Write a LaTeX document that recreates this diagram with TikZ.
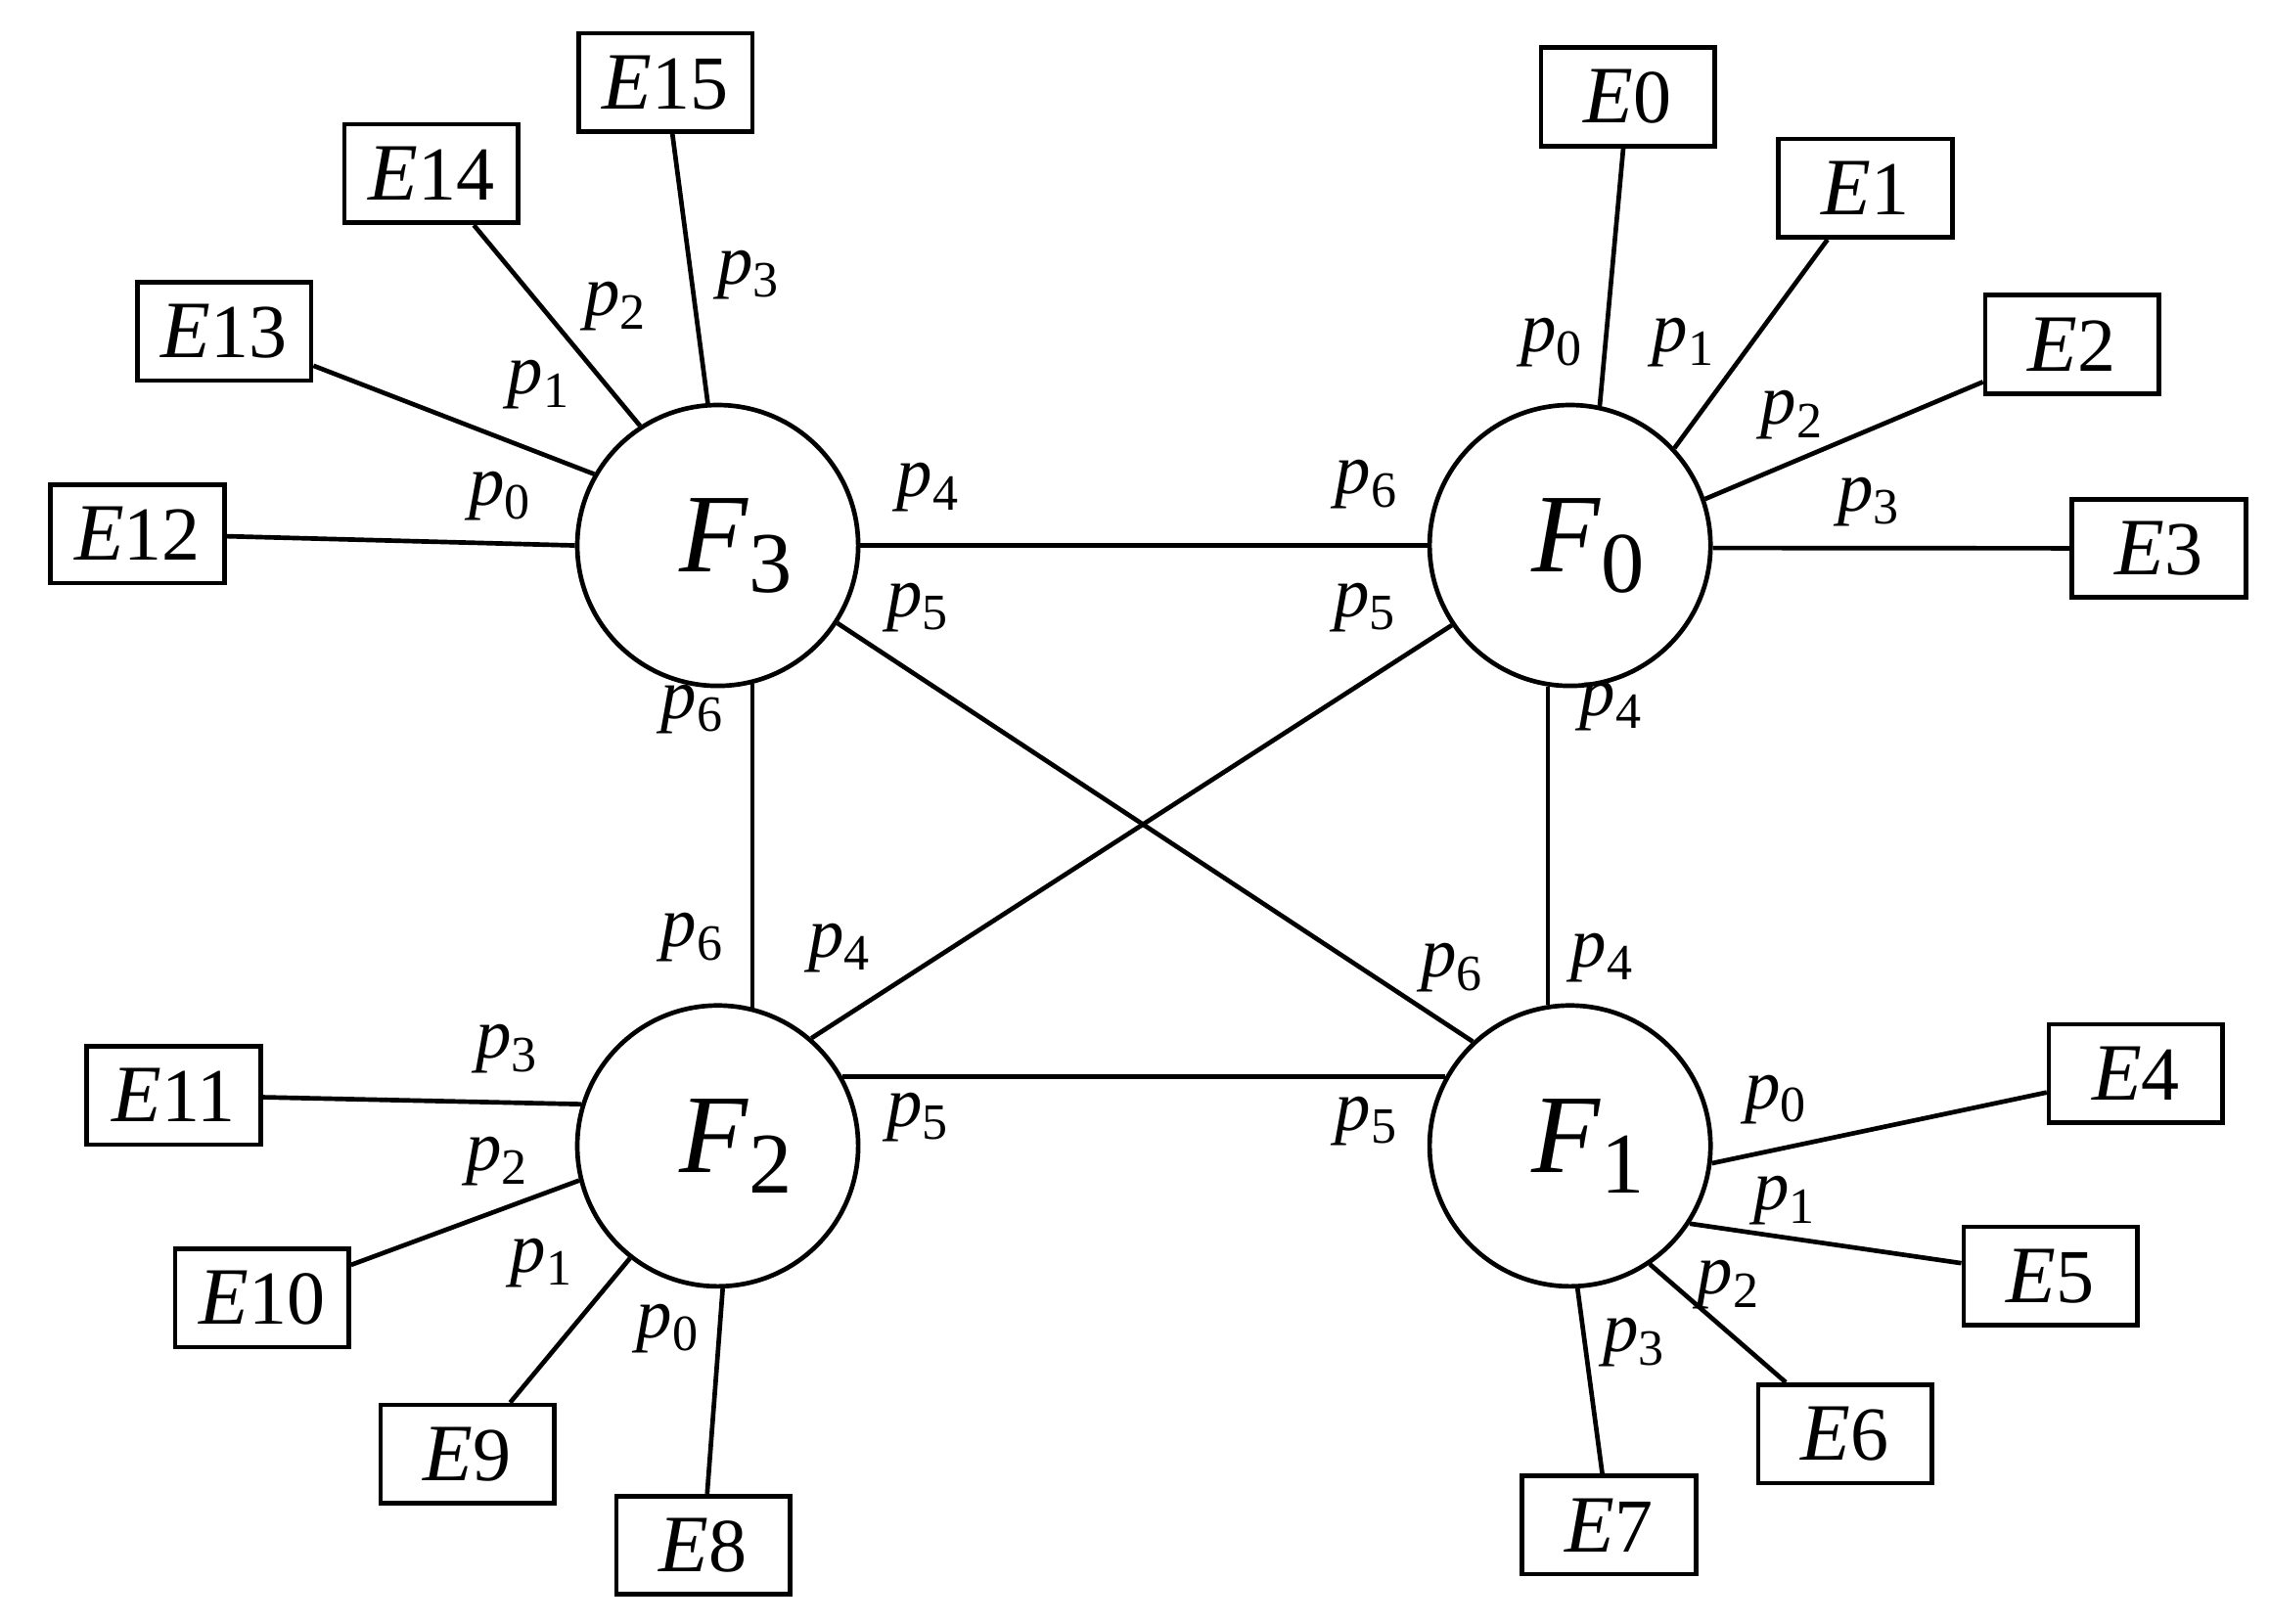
\documentclass[tikz,border=0pt]{standalone}
\usepackage{fontspec}
\setmainfont{Liberation Serif}
\begin{document}
\begin{tikzpicture}[x=0.01cm,y=-0.01cm,line width=0.9pt,
 hub/.style={circle,draw,minimum size=1.94cm,inner sep=0pt,font=\fontsize{22}{24}\selectfont},
 box/.style={draw,minimum width=1.2cm,minimum height=0.68cm,inner sep=0pt,font=\fontsize{16}{17}\selectfont},
 lab/.style={font=\fontsize{14}{15}\selectfont,inner sep=0pt}]
\useasboundingbox (0,0) rectangle (1568,1122);
\newcommand{\EE}[1]{\textit{E}{\fontsize{15}{16}\selectfont #1}}
\newcommand{\pp}[1]{\textit{p}\raisebox{-0.4ex}{\fontsize{10}{10}\selectfont #1}}
\newcommand{\FF}[1]{\hspace{0.25cm}\textit{F}\raisebox{-0.4ex}{\fontsize{17}{17}\selectfont #1}}
\node[hub] (F3) at (496,377) {\FF{3}};
\node[hub] (F0) at (1085,377) {\FF{0}};
\node[hub] (F2) at (496,792) {\FF{2}};
\node[hub] (F1) at (1085,792) {\FF{1}};
\foreach \n/\x/\y/\f/\a in {0/1125/67/F0/78.6,1/1289/130/F0/43.9,2/1432/238/F0/19.4,3/1492/379/F0/-1.8,
 4/1476/742/F1/-7.6,5/1417/882/F1/-33.4,6/1275/991/F1/-56.1,7/1112/1054/F1/-87.6,
 8/486/1068/F2/-88.2,9/323/1005/F2/-128.5,10/181/897/F2/-166.8,11/120/757/F2/163.4,
 12/95/369/F3/180,13/155/229/F3/150.3,14/298/120/F3/123.4,15/460/57/F3/94.7}{
 \node[box] (E\n) at (\x,\y) {\EE{\n}};
 \draw (\f.\a) -- (E\n);
}
\draw (F3.0) -- (F0.180);
\draw (F3.-76) -- (F2.76);
\draw (F0.-99) -- (F1.99);
\draw (F2.29) -- (F1.151);
\draw (F3.-33) -- (F1.133);
\draw (F0.214) -- (F2.49);
\foreach \t/\x/\y in {4/641/337,5/634/420,6/478/490,0/345/343,1/372/266,2/425/212,3/517/190,
 6/944/335,5/943/420,4/1113/488,0/1072/237,1/1163/237,2/1238/287,3/1291/347,
 6/478/648,4/580/655,5/634/772,3/350/725,2/343/803,1/374/873,0/461/918,
 6/1003/669,4/1107/662,5/944/775,0/1227/760,1/1233/830,2/1194/888,3/1129/928}
 \node[lab] at (\x,\y) {\pp{\t}};
\end{tikzpicture}
\end{document}
